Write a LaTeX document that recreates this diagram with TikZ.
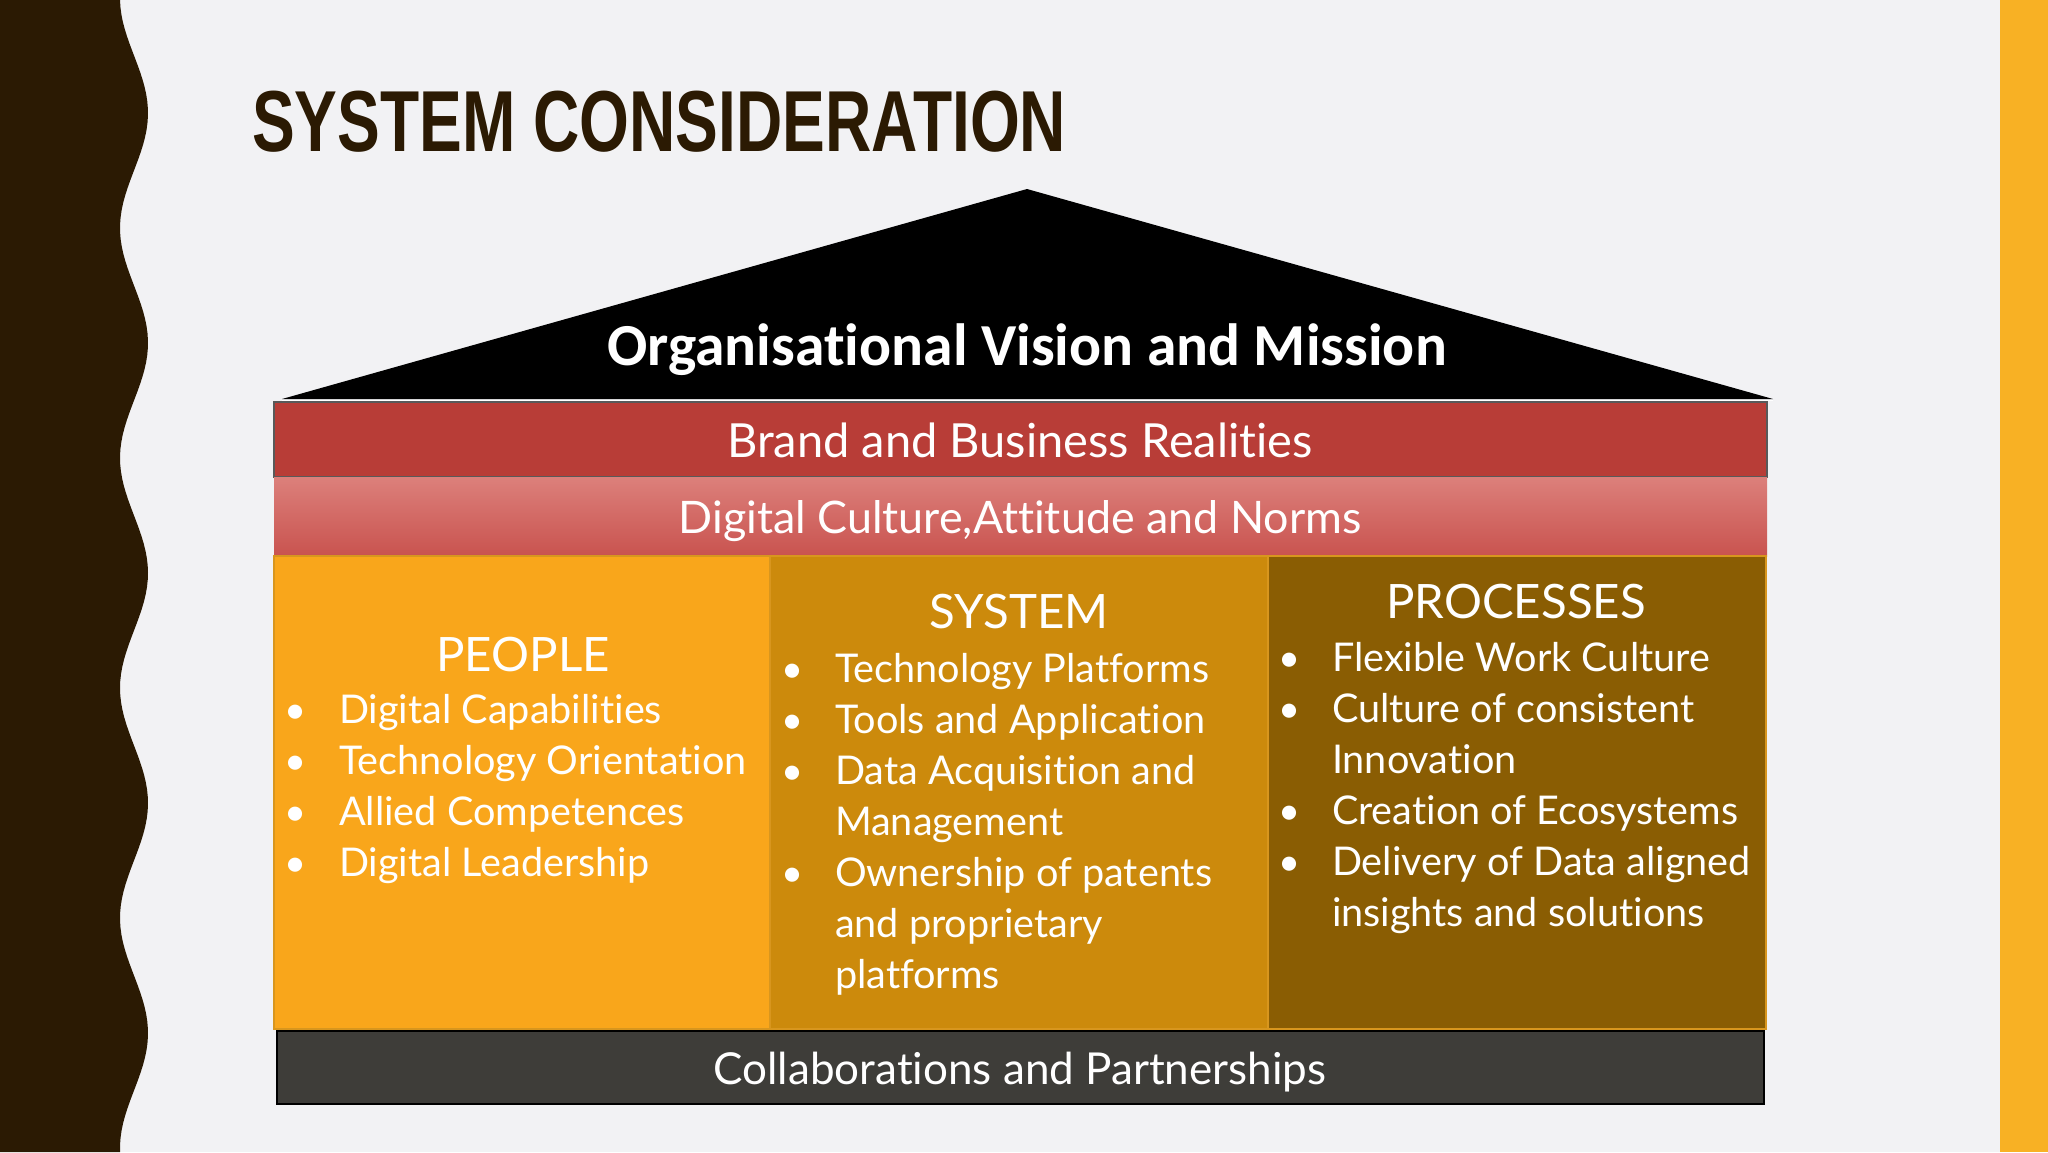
\documentclass[tikz,border=0pt]{standalone}
\usepackage{fontspec}
\setmainfont{Lato}[Ligatures=NoCommon]
\newfontfamily\rooffont{Carlito}[Ligatures=NoCommon]
\newfontfamily\headfont{Liberation Sans}

\definecolor{slidebg}{HTML}{F2F2F4}
\definecolor{wavebrown}{HTML}{2B1A03}
\definecolor{baryellow}{HTML}{F8B124}
\definecolor{brandred}{HTML}{B83D37}
\definecolor{pinktop}{HTML}{DC807B}
\definecolor{pinkbot}{HTML}{C9534F}
\definecolor{peopleorange}{HTML}{F9A61B}
\definecolor{systemochre}{HTML}{CC8A0C}
\definecolor{processbrown}{HTML}{8A5D03}
\definecolor{colborder}{HTML}{D8961E}
\definecolor{collabgrey}{HTML}{3E3D39}

\begin{document}
\begin{tikzpicture}[
	x=0.5pt, y=-0.5pt,
	every node/.style={inner sep=0pt, outer sep=0pt},
	bandtext/.style={text=white, anchor=base, font=\fontsize{22}{26}\selectfont},
	headtext/.style={text=white, anchor=base, font=\fontsize{23.7}{28}\selectfont},
	itemtext/.style={text=white, anchor=base west, font=\fontsize{19.8}{25.5}\selectfont},
	bulletmark/.style={text=white, anchor=base, font=\fontsize{19}{25.5}\selectfont},
	colbox/.style={draw=colborder, line width=0.8pt},
]
\useasboundingbox (0,0) rectangle (2048,1152);
\fill[slidebg] (0,0) rectangle (2048,1152);

% wavy band on the left, plain bar on the right
\fill[wavebrown] (0,0) -- plot[domain=0:1152, samples=160] ({134+14*cos(1.5652*(\x-113))}, \x) -- (0,1152) -- cycle;
\fill[baryellow] (2000,0) rectangle (2048,1152);

\node[anchor=base west, text=wavebrown, font=\headfont\bfseries\fontsize{43.3}{50}\selectfont] (title) at (252,151) {\scalebox{0.74}[1]{SYSTEM CONSIDERATION}};

% roof
\fill[black] (282,399) -- (1027,189) -- (1773,399) -- cycle;
\draw[white, line width=0.8pt] (282,400.5) -- (1773,400.5);
\node[anchor=base, text=white, font=\rooffont\bfseries\fontsize{29.8}{34}\selectfont] (vision) at (1027,365) {Organisational Vision and Mission};

% bands
\filldraw[fill=brandred, draw=black!65, line width=0.8pt] (274,402) rectangle (1767,477);
\node[bandtext, font=\fontsize{23.5}{28}\selectfont] (brand) at (1020,457) {Brand and Business Realities};
\shade[top color=pinktop, bottom color=pinkbot] (274,477) rectangle (1767,556);
\node[bandtext, font=\fontsize{22.4}{27}\selectfont] (culture) at (1020,533) {Digital Culture,Attitude and Norms};

% pillars
\fill[peopleorange] (274,556) rectangle (770,1029);
\fill[systemochre] (770,556) rectangle (1268,1029);
\fill[processbrown] (1268,556) rectangle (1766,1029);
\draw[colbox] (274,556) rectangle (770,1029);
\draw[colbox] (770,556) rectangle (1268,1029);
\draw[colbox] (1268,556) rectangle (1766,1029);

\node[headtext] (people) at (523,671) {PEOPLE};
\foreach \yy in {723,774,825,876}
	\node[bulletmark] (pb\yy) at (296,\yy) {\textbullet};
\foreach \yy/\txt in {723/Digital Capabilities, 774/Technology Orientation, 825/Allied Competences, 876/Digital Leadership}
	\node[itemtext] (pi\yy) at (339,\yy) {\txt};

\node[headtext] (system) at (1019,628) {SYSTEM};
\foreach \yy in {682,733,784,886}
	\node[bulletmark] (sb\yy) at (793,\yy) {\textbullet};
\foreach \yy/\txt in {682/Technology Platforms, 733/Tools and Application, 784/Data Acquisition and, 835/Management, 886/Ownership of patents, 937/and proprietary, 988/platforms}
	\node[itemtext] (si\yy) at (835,\yy) {\txt};

\node[headtext] (processes) at (1516,618) {PROCESSES};
\foreach \yy in {671,722,824,875}
	\node[bulletmark] (rb\yy) at (1289,\yy) {\textbullet};
\foreach \yy/\txt in {671/Flexible Work Culture, 722/Culture of consistent, 773/Innovation, 824/Creation of Ecosystems, 875/Delivery of Data aligned, 926/insights and solutions}
	\node[itemtext] (ri\yy) at (1332,\yy) {\txt};

% base
\filldraw[fill=collabgrey, draw=black, line width=1.2pt] (277,1031) rectangle (1764,1104);
\node[bandtext] (collab) at (1020,1084) {Collaborations and Partnerships};
\end{tikzpicture}
\end{document}
